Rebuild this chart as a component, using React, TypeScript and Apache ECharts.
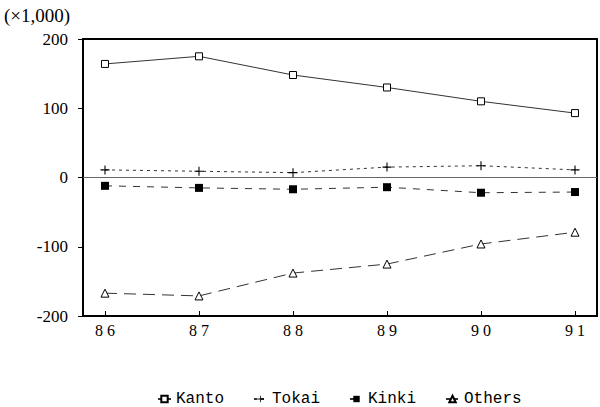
import React, { useEffect, useRef } from "react";
import * as echarts from "echarts";

const years = [86, 87, 88, 89, 90, 91];
const yearLabels = ["8 6", "8 7", "8 8", "8 9", "9 0", "9 1"];
const kanto = [164, 175, 148, 130, 110, 93];
const tokai = [11, 9, 7, 15, 17, 11];
const kinki = [-12, -15, -17, -14, -22, -21];
const others = [-167, -171, -138, -125, -96, -79];
const unitLabel = "(×1,000)";

const plusPath = "path://M4.4,0h1.2v4.4h4.4v1.2h-4.4v4.4h-1.2v-4.4h-4.4v-1.2h4.4z";

export default function App() {
  const ref = useRef<HTMLDivElement>(null);
  useEffect(() => {
    if (!ref.current) return;
    const chart = echarts.init(ref.current, null, { renderer: "svg" });
    const pair = (arr: number[]) => arr.map((v, i) => [years[i], v]);
    const serif = "'Liberation Serif', 'DejaVu Serif', serif";
    const mono = "'Liberation Mono', 'DejaVu Sans Mono', monospace";
    chart.setOption({
      animation: false,
      backgroundColor: "#fff",
      grid: {
        left: 83,
        right: 3,
        top: 39,
        bottom: 91,
        show: true,
        borderColor: "#000",
        borderWidth: 2,
        backgroundColor: "transparent",
      },
      graphic: [
        {
          type: "text",
          left: 4,
          top: 6,
          style: { text: unitLabel, font: `19px ${serif}`, fill: "#000" },
        },
      ],
      legend: {
        top: 386,
        left: 152,
        itemWidth: 13,
        itemHeight: 8,
        itemGap: 29,
        textStyle: { fontFamily: mono, fontSize: 16, color: "#000" },
        data: ["Kanto", "Tokai", "Kinki", "Others"],
      },
      xAxis: {
        type: "value",
        min: 85.766,
        max: 91.234,
        splitLine: { show: false },
        axisLine: { show: true, onZero: false, lineStyle: { color: "#000", width: 2 } },
        axisTick: {
          show: true,
          inside: true,
          length: 5,
          customValues: years,
          lineStyle: { color: "#000" },
        },
        axisLabel: {
          customValues: years,
          formatter: (v: number) => yearLabels[years.indexOf(Math.round(v))] ?? "",
          fontFamily: serif,
          fontSize: 16,
          color: "#000",
          margin: 6,
        },
      },
      yAxis: {
        type: "value",
        min: -200,
        max: 200,
        interval: 100,
        splitLine: { show: false },
        axisLine: { show: true, onZero: false, lineStyle: { color: "#000", width: 2 } },
        axisTick: { show: true, inside: false, length: 5, lineStyle: { color: "#000" } },
        axisLabel: {
          fontFamily: serif,
          fontSize: 17,
          color: "#000",
          margin: 15,
          formatter: (v: number) => String(v),
        },
      },
      series: [
        {
          name: "Kanto",
          type: "line",
          data: pair(kanto),
          symbol: "rect",
          symbolSize: 7,
          showAllSymbol: true,
          lineStyle: { color: "#333", width: 1, type: "solid" },
          itemStyle: { color: "#fff", borderColor: "#000", borderWidth: 1 },
          markLine: {
            silent: true,
            symbol: "none",
            label: { show: false },
            lineStyle: { color: "#666", width: 1, type: "solid" },
            data: [{ yAxis: 0 }],
          },
        },
        {
          name: "Tokai",
          type: "line",
          data: pair(tokai),
          symbol: plusPath,
          symbolSize: 9,
          lineStyle: { color: "#333", width: 1, type: [3, 4] },
          itemStyle: { color: "#000", borderWidth: 0 },
        },
        {
          name: "Kinki",
          type: "line",
          data: pair(kinki),
          symbol: "rect",
          symbolSize: 8,
          lineStyle: { color: "#333", width: 1, type: [7, 7] },
          itemStyle: { color: "#000" },
        },
        {
          name: "Others",
          type: "line",
          data: pair(others),
          symbol: "triangle",
          symbolSize: 8,
          lineStyle: { color: "#333", width: 1, type: [12, 7] },
          itemStyle: { color: "#fff", borderColor: "#000", borderWidth: 1 },
        },
      ],
    });
    return () => chart.dispose();
  }, []);
  return <div ref={ref} style={{ width: 600, height: 407, position: "absolute", left: 0, top: 0 }} />;
}
